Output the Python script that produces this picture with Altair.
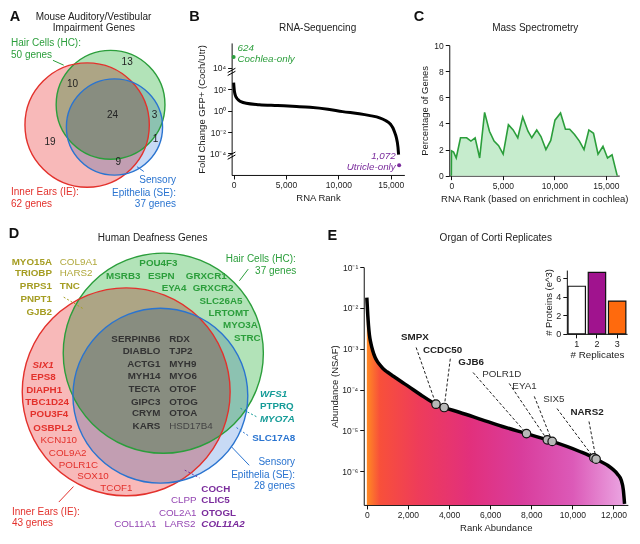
import math
import altair as alt
import pandas as pd

FONT = "Liberation Sans"
W, H = 620, 520
RX = [3, 638]
RY = [3, 541]


def PX(x):
    return (x - RX[0]) * W / (RX[1] - RX[0])


def PY(y):
    return (y - RY[0]) * H / (RY[1] - RY[0])


K = 0.5 * (W / (RX[1] - RX[0]) + H / (RY[1] - RY[0]))

GREEN = "#2b9e3b"
RED = "#e3312c"
BLUE = "#2a74d0"
TEAL = "#169c98"
PURPLE = "#7a2b9c"
PURPLE_LT = "#9547b3"
OLIVE = "#a59d22"
DARK = "#333333"
INK = "#222222"

# ---------------- Panel A: mouse impairment genes (Venn) ----------------
a_sets = ["Hair Cells (HC)", "Inner Ears (IE)", "Sensory Epithelia (SE)"]
a_cx = [106, 82, 110]
a_cy = [99, 120, 122]
a_r = [56, 64, 49.5]
a_counts = ["13", "10", "24", "3", "19", "1", "9"]
a_count_x = [123, 67, 108, 151, 44, 152, 114]
a_count_y = [55, 77, 110, 110, 138, 134, 158]

# ---------------- Panel D: human deafness genes (Venn) ----------------
d_cx = [160, 122, 157]
d_cy = [356, 396, 400]
d_r = [103, 107, 90]

venn_fill = ["#b2e3b8", "#f8b9b9", "#c8daf5"]
venn_stroke = [GREEN, RED, BLUE]

# ---------------- Panel B: RNA-seq fold change (log10 units) ----------------
b_rank = [0, 60, 150, 300, 500, 750, 1200, 2450, 4200, 6000, 7300, 9000, 10400,
          12000, 12900, 14000, 14450, 15000, 15200, 15400, 15530, 15690, 15750]
b_log_fc = [2.6, 1.9, 1.45, 1.15, 0.95, 0.8, 0.68, 0.55, 0.47, 0.38, 0.3, 0.12, -0.1,
            -0.3, -0.45, -0.7, -0.9, -1.3, -1.6, -2.1, -2.5, -3.4, -4.1]
b_only_label = ["624", "1,072"]
b_only_rank = [0, 15800]
b_only_logfc = [5.0, -5.1]
b_ticks = [4, 2, 0, -2, -4]
b_tick_labels = ["10\u2074", "10\u00b2", "10\u2070", "10\u207b\u00b2", "10\u207b\u2074"]
b_break_y = [3.6, -4.2]

# ---------------- Panel C: mass spectrometry ----------------
c_rank = [0, 15, 220, 475, 890, 1265, 1490, 1900, 2310, 2750, 3230, 3700, 4150, 4590,
          5030, 5540, 6000, 6450, 6930, 7440, 7810, 8290, 8700, 9180, 9650, 10060,
          10600, 11075, 11490, 11960, 12430, 12880, 13350, 13800, 14240, 14720, 15160,
          15600, 16100]
c_pct = [0, 1.9, 1.8, 1.35, 2.9, 2.9, 2.9, 2.65, 2.9, 1.35, 4.85, 3.4, 2.65, 2.3,
         1.65, 3.9, 3.5, 2.9, 4.5, 3.4, 2.9, 3.5, 3.0, 2.0, 2.7, 4.25,
         4.8, 3.55, 3.55, 3.15, 2.65, 2.0, 3.5, 3.25, 1.65, 2.25, 1.35,
         1.6, 0]

# ---------------- Panel E: organ of Corti abundance ----------------
e_rank = [0, 15, 47, 80, 126, 200, 285, 400, 522, 700, 840, 1000, 1313, 1650, 2025,
          2600, 3364, 3763, 4500, 5580, 6600, 7768, 8780, 9018, 10330, 11046, 11155,
          11900, 12200, 12380, 12480, 12540]
e_nsaf = [1.8e-2, 1.3e-2, 6.6e-3, 3.8e-3, 2.2e-3, 1.35e-3, 9.1e-4, 6.2e-4, 4.8e-4,
          3.7e-4, 3.1e-4, 2.7e-4, 2.1e-4, 1.6e-4, 1.2e-4, 7.6e-5, 4.4e-5, 3.65e-5,
          2.8e-5, 1.85e-5, 1.25e-5, 8.4e-6, 5.9e-6, 5.4e-6, 3.1e-6, 2.13e-6, 1.98e-6,
          1.2e-6, 8.5e-7, 6.0e-7, 3.5e-7, 1.6e-7]
e_genes = ["SMPX", "CCDC50", "GJB6", "POLR1D", "EYA1", "SIX5", "NARS2"]
e_gene_bold = [True, True, True, False, False, False, True]
e_gene_rank = [3364, 3763, 7768, 8780, 9018, 11046, 11155]
e_gene_nsaf = [4.4e-5, 3.65e-5, 8.4e-6, 5.9e-6, 5.4e-6, 2.13e-6, 1.98e-6]
e_label_rank = [2337, 3682, 5074, 6566, 7673, 9098, 10714]
e_label_nsaf = [1.94e-3, 9.57e-4, 4.79e-4, 2.39e-4, 1.20e-4, 5.93e-5, 2.81e-5]
e_lead_rank = [2399, 4062, 5169, 6927, 8148, 9255, 10809]
e_lead_nsaf = [1.08e-3, 5.73e-4, 2.63e-4, 1.42e-4, 6.84e-5, 3.44e-5, 1.66e-5]
e_ticks = [1e-1, 1e-2, 1e-3, 1e-4, 1e-5, 1e-6]
e_tick_labels = ["10\u207b\u00b9", "10\u207b\u00b2", "10\u207b\u00b3", "10\u207b\u2074",
                 "10\u207b\u2075", "10\u207b\u2076"]
e_reps = ["1", "2", "3"]
e_proteins = [5.15, 6.65, 3.55]
e_rep_colors = ["#ffffff", "#a0138e", "#ff6a0d"]


# ---------------- helpers ----------------
def ax(**kw):
    base = dict(domainColor="#111111", tickColor="#111111", labelColor=INK, titleColor=INK,
                labelFont=FONT, titleFont=FONT, labelFontSize=8.5, titleFontSize=9.5,
                titleFontWeight="normal", grid=False, tickSize=4, labelPadding=2,
                titlePadding=4, labelOverlap=False)
    base.update(kw)
    return alt.Axis(**base)


XR = alt.Scale(domain=RX, range=[0, W], nice=False, zero=False)
YR = alt.Scale(domain=RY, range=[0, H], nice=False, zero=False)


def rx(f):
    return alt.X(f, scale=XR, axis=None)


def ry(f):
    return alt.Y(f, scale=YR, axis=None)


def tx(rows, color, size=9.8, weight="normal", style="normal", align="center"):
    df = pd.DataFrame(rows, columns=["label", "x", "y"])
    return alt.Chart(df).mark_text(font=FONT, fontSize=size, fontWeight=weight,
                                   fontStyle=style, align=align, baseline="middle",
                                   color=color).encode(x=rx("x:Q"), y=ry("y:Q"), text="label:N")


def seg(rows, color, width=1.0, dash=None):
    df = pd.DataFrame(rows, columns=["x", "y", "x2", "y2"])
    kw = dict(color=color, strokeWidth=width)
    if dash:
        kw["strokeDash"] = dash
    return alt.Chart(df).mark_rule(**kw).encode(x=rx("x:Q"), y=ry("y:Q"), x2="x2:Q", y2="y2:Q")


# ---------------- reference-frame layer (Venns, letters, titles) ----------------
RMAX = 120
SIZE = alt.Scale(type="pow", exponent=2, domain=[0, RMAX], range=[0, (2 * RMAX * K) ** 2])
venn_df = pd.DataFrame({"set": a_sets + a_sets, "cx": a_cx + d_cx, "cy": a_cy + d_cy,
                        "r": a_r + d_r, "fill": venn_fill * 2, "stroke": venn_stroke * 2})

venn_fills = alt.Chart(venn_df).mark_circle(opacity=1, blend="multiply").encode(
    x=rx("cx:Q"), y=ry("cy:Q"),
    size=alt.Size("r:Q", scale=SIZE, legend=None),
    fill=alt.Fill("fill:N", scale=None))
venn_lines = alt.Chart(venn_df).mark_point(shape="circle", filled=False, opacity=1,
                                           strokeWidth=1.4).encode(
    x=rx("cx:Q"), y=ry("cy:Q"),
    size=alt.Size("r:Q", scale=SIZE, legend=None),
    stroke=alt.Stroke("stroke:N", scale=None))

ref_layers = [venn_fills, venn_lines]

# pointer lines
ref_layers += [
    seg([(47, 53, 58, 58)], GREEN),
    seg([(133, 163, 140, 168)], BLUE),
    seg([(58, 298, 78, 310)], OLIVE, dash=[2, 2]),
    seg([(247, 269, 238, 281)], GREEN),
    seg([(239, 413, 256, 422)], TEAL, dash=[2, 2]),
    seg([(235, 433, 248, 442)], BLUE, dash=[2, 2]),
    seg([(230, 453, 248, 472)], BLUE),
    seg([(182, 477, 197, 485)], PURPLE, dash=[2, 2]),
    seg([(53, 510, 68, 494)], RED),
]

# letters and titles
ref_layers += [
    tx([("A", 8, 8), ("B", 192, 8), ("C", 422, 8), ("D", 7, 233), ("E", 333, 235)],
       "#111111", size=14.5, weight="bold"),
    tx([("Mouse Auditory/Vestibular", 88.5, 8), ("Impairment Genes", 89, 20),
        ("RNA-Sequencing", 318, 20), ("Mass Spectrometry", 541, 20)], INK, size=10),
    tx([("Human Deafness Genes", 93, 237), ("Organ of Corti Replicates", 443, 237)],
       INK, size=10, align="left"),
]

# panel A texts
ref_layers += [
    tx(list(zip(a_counts, a_count_x, a_count_y)), INK, size=10),
    tx([("Hair Cells (HC):", 4, 35), ("50 genes", 4, 48)], GREEN, size=10, align="left"),
    tx([("Inner Ears (IE):", 4, 189), ("62 genes", 4, 202)], RED, size=10, align="left"),
    tx([("Sensory", 173, 177), ("Epithelia (SE):", 173, 190), ("37 genes", 173, 202)],
       BLUE, size=10, align="right"),
]

# panel D texts
ref_layers += [
    # IE & HC (olive)
    tx([("MYO15A", 46, 262), ("TRIOBP", 46, 273), ("PRPS1", 46, 287), ("PNPT1", 46, 300),
        ("GJB2", 46, 313)], OLIVE, weight="bold", align="right"),
    tx([("COL9A1", 54, 262), ("HARS2", 54, 273)], "#b0a83c", align="left"),
    tx([("TNC", 54, 287)], OLIVE, weight="bold", align="left"),
    # HC only (green)
    tx([("POU4F3", 155, 263), ("MSRB3", 119, 276), ("ESPN", 158, 276), ("GRXCR1", 204, 276),
        ("EYA4", 171, 289), ("GRXCR2", 211, 289), ("SLC26A5", 219, 302), ("LRTOMT", 227, 314),
        ("MYO3A", 239, 327), ("STRC", 246, 340)], GREEN, weight="bold"),
    tx([("Hair Cells (HC):", 224, 259), ("37 genes", 254, 271)], GREEN, size=10, align="left"),
    # all three (dark)
    tx([("SERPINB6", 157, 341), ("DIABLO", 157, 354), ("ACTG1", 157, 367), ("MYH14", 157, 380),
        ("TECTA", 157, 393), ("GIPC3", 157, 406), ("CRYM", 157, 418), ("KARS", 157, 431)],
       DARK, weight="bold", align="right"),
    tx([("RDX", 166, 341), ("TJP2", 166, 354), ("MYH9", 166, 367), ("MYO6", 166, 380),
        ("OTOF", 166, 393), ("OTOG", 166, 406), ("OTOA", 166, 418)],
       DARK, weight="bold", align="left"),
    tx([("HSD17B4", 166, 431)], "#444444", align="left"),
    # IE only (red)
    tx([("SIX1", 37, 368)], RED, weight="bold", style="italic"),
    tx([("EPS8", 37, 381), ("DIAPH1", 38, 394), ("TBC1D24", 41, 407), ("POU3F4", 43, 419),
        ("OSBPL2", 47, 433)], RED, weight="bold"),
    tx([("KCNJ10", 53, 446), ("COL9A2", 62, 459), ("POLR1C", 73, 472), ("SOX10", 88, 483),
        ("TCOF1", 112, 495)], RED),
    tx([("Inner Ears (IE):", 5, 520), ("43 genes", 5, 532)], RED, size=10, align="left"),
    # HC & SE (teal)
    tx([("WFS1", 259, 398), ("MYO7A", 259, 424)], TEAL, weight="bold", style="italic", align="left"),
    tx([("PTPRQ", 259, 411)], TEAL, weight="bold", align="left"),
    # SE only (blue)
    tx([("SLC17A8", 251, 444)], BLUE, weight="bold", align="left"),
    tx([("Sensory", 295, 469), ("Epithelia (SE):", 295, 482), ("28 genes", 295, 493)],
       BLUE, size=10, align="right"),
    # IE & SE (purple)
    tx([("COCH", 199, 496), ("CLIC5", 199, 508), ("OTOGL", 199, 521)], PURPLE, weight="bold",
       align="left"),
    tx([("COL11A2", 199, 533)], PURPLE, weight="bold", style="italic", align="left"),
    tx([("CLPP", 194, 508), ("COL2A1", 194, 521), ("LARS2", 193, 533), ("COL11A1", 153, 533)],
       PURPLE_LT, align="right"),
]

ref_layer = alt.layer(*ref_layers)

# ---------------- Panel B ----------------
BXS = alt.Scale(domain=[-200, 16300], range=[PX(229.9), PX(406.9)], nice=False, zero=False)
BYS = alt.Scale(domain=[-6.0, 6.3], range=[PY(171.6), PY(35)], nice=False, zero=False)
b_expr = " : ".join(f"datum.value == {v} ? '{t}'" for v, t in zip(b_ticks, b_tick_labels)) + " : ''"
B_XAX = ax(orient="bottom", offset=PY(171.6) - H, values=[0, 5000, 10000, 15000], format=",.0f",
           title="RNA Rank", titlePadding=3)
B_YAX = ax(orient="left", offset=-PX(230), values=b_ticks, labelExpr=b_expr,
           title="Fold Change GFP+ (Coch/Utr)", titlePadding=3)


def bx(f):
    return alt.X(f, scale=BXS, axis=B_XAX)


def by(f):
    return alt.Y(f, scale=BYS, axis=B_YAX)


b_df = pd.DataFrame({"rank": b_rank, "lfc": b_log_fc})
b_line = alt.Chart(b_df).mark_line(color="black", strokeWidth=3, interpolate="monotone").encode(
    x=bx("rank:Q"), y=by("lfc:Q"))
b_pts = alt.Chart(pd.DataFrame({"rank": b_only_rank, "lfc": b_only_logfc,
                                "color": [GREEN, PURPLE]})).mark_circle(size=16, opacity=1).encode(
    x=bx("rank:Q"), y=by("lfc:Q"), color=alt.Color("color:N", scale=None))
b_note_g = alt.Chart(pd.DataFrame({"rank": [373, 373], "lfc": [5.86, 4.77],
                                   "label": [b_only_label[0], "Cochlea-only"]})).mark_text(
    font=FONT, fontSize=9.8, fontStyle="italic", align="left", baseline="middle", color=GREEN).encode(
    x=bx("rank:Q"), y=by("lfc:Q"), text="label:N")
b_note_p = alt.Chart(pd.DataFrame({"rank": [15470, 15470], "lfc": [-4.2, -5.25],
                                   "label": [b_only_label[1], "Utricle-only"]})).mark_text(
    font=FONT, fontSize=9.8, fontStyle="italic", align="right", baseline="middle", color=PURPLE).encode(
    x=bx("rank:Q"), y=by("lfc:Q"), text="label:N")
brk_rows = []
for yb in b_break_y:
    for off in (-0.14, 0.14):
        brk_rows.append({"x": -570, "y": yb - 0.2 + off, "x2": 170, "y2": yb + 0.2 + off})
b_breaks = alt.Chart(pd.DataFrame(brk_rows)).mark_rule(color="black", strokeWidth=1).encode(
    x=bx("x:Q"), y=by("y:Q"), x2="x2:Q", y2="y2:Q")
b_layer = alt.layer(b_line, b_pts, b_note_g, b_note_p, b_breaks)

# ---------------- Panel C ----------------
CXS = alt.Scale(domain=[-200, 16300], range=[PX(452.9), PX(627)], nice=False, zero=False)
CYS = alt.Scale(domain=[0, 10], range=[PY(172.3), PY(37.3)], nice=False, zero=False)
C_XAX = ax(orient="bottom", offset=PY(172.3) - H, values=[0, 5000, 10000, 15000], format=",.0f",
           title="RNA Rank (based on enrichment in cochlea)", titlePadding=3)
C_YAX = ax(orient="left", offset=-PX(452.9), values=[0, 2, 4, 6, 8, 10],
           title="Percentage of Genes", titlePadding=4)
c_df = pd.DataFrame({"rank": c_rank, "pct": c_pct})
c_area = alt.Chart(c_df).mark_area(color="#c6eccd", opacity=1).encode(
    x=alt.X("rank:Q", scale=CXS, axis=C_XAX), y=alt.Y("pct:Q", scale=CYS, axis=C_YAX))
c_line = alt.Chart(c_df).mark_line(color=GREEN, strokeWidth=1.6).encode(
    x=alt.X("rank:Q", scale=CXS, axis=C_XAX), y=alt.Y("pct:Q", scale=CYS, axis=C_YAX))
c_layer = alt.layer(c_area, c_line)

# ---------------- Panel E ----------------
EXS = alt.Scale(domain=[-150, 12700], range=[PX(365.3), PX(635.8)], nice=False, zero=False)
EYS = alt.Scale(type="log", domain=[1.5e-7, 0.1], range=[PY(513), PY(267)], nice=False)
e_expr = " : ".join(f"round(log(datum.value)/LN10) == {round(math.log10(v))} ? '{t}'"
                    for v, t in zip(e_ticks, e_tick_labels)) + " : ''"
E_XAX = ax(orient="bottom", offset=PY(513) - H, values=[0, 2000, 4000, 6000, 8000, 10000, 12000],
           format=",.0f", title="Rank Abundance", titlePadding=3)
E_YAX = ax(orient="left", offset=-PX(365.3), values=e_ticks, labelExpr=e_expr,
           title="Abundance (NSAF)", titlePadding=2)


def ex(f):
    return alt.X(f, scale=EXS, axis=E_XAX)


def ey(f):
    return alt.Y(f, scale=EYS, axis=E_YAX)


e_df = pd.DataFrame({"rank": e_rank, "nsaf": e_nsaf})
grad = alt.Gradient(gradient="linear", x1=0, x2=1, y1=0, y2=0, stops=[
    alt.GradientStop(color="#ff8a24", offset=0.0),
    alt.GradientStop(color="#f8503a", offset=0.05),
    alt.GradientStop(color="#ee3c5a", offset=0.2),
    alt.GradientStop(color="#e2307c", offset=0.4),
    alt.GradientStop(color="#d93d9c", offset=0.6),
    alt.GradientStop(color="#dc5ab8", offset=0.8),
    alt.GradientStop(color="#eba6e2", offset=1.0),
])
e_area = alt.Chart(e_df).mark_area(color=grad, opacity=1, interpolate="monotone").encode(
    x=ex("rank:Q"), y=ey("nsaf:Q"), y2=alt.datum(1.5e-7))
e_line = alt.Chart(e_df).mark_line(color="black", strokeWidth=3.5, interpolate="monotone").encode(
    x=ex("rank:Q"), y=ey("nsaf:Q"))
g_df = pd.DataFrame({"gene": e_genes, "bold": e_gene_bold, "rank": e_gene_rank,
                     "nsaf": e_gene_nsaf, "lrank": e_label_rank, "lnsaf": e_label_nsaf,
                     "srank": e_lead_rank, "snsaf": e_lead_nsaf})
e_leads = alt.Chart(g_df).mark_rule(color="#222222", strokeWidth=1, strokeDash=[3, 2]).encode(
    x=ex("srank:Q"), y=ey("snsaf:Q"), x2="rank:Q", y2="nsaf:Q")
e_pts = alt.Chart(g_df).mark_point(filled=True, fill="#b8b8b8", stroke="#111111", strokeWidth=1.2,
                                   size=72, opacity=1).encode(x=ex("rank:Q"), y=ey("nsaf:Q"))
e_lab_b = alt.Chart(g_df).transform_filter("datum.bold").mark_text(
    font=FONT, fontSize=9.8, fontWeight="bold", color=INK, baseline="middle").encode(
    x=ex("lrank:Q"), y=ey("lnsaf:Q"), text="gene:N")
e_lab_n = alt.Chart(g_df).transform_filter("!datum.bold").mark_text(
    font=FONT, fontSize=9.8, color="#333333", baseline="middle").encode(
    x=ex("lrank:Q"), y=ey("lnsaf:Q"), text="gene:N")
e_layer = alt.layer(e_area, e_line, e_leads, e_pts, e_lab_b, e_lab_n)

# ---------------- Panel E inset ----------------
IXS = alt.Scale(domain=e_reps, range=[PX(573.3), PX(635)], paddingInner=0.14, paddingOuter=0.06)
IYS = alt.Scale(domain=[0, 6.9], range=[PY(336), PY(270)], nice=False, zero=False)
i_df = pd.DataFrame({"rep": e_reps, "k": e_proteins, "color": e_rep_colors})
inset = alt.Chart(i_df).mark_bar(stroke="#111111", strokeWidth=1.2, opacity=1).encode(
    x=alt.X("rep:N", scale=IXS, axis=ax(orient="bottom", offset=PY(336) - H, labelAngle=0,
                                        title="# Replicates", titleFontSize=9.8, titlePadding=1,
                                        labelFontSize=9)),
    y=alt.Y("k:Q", scale=IYS, axis=ax(orient="left", offset=-PX(573.3), values=[0, 2, 4, 6],
                                      title="# Proteins (e^3)", labelFontSize=9, titlePadding=2)),
    fill=alt.Fill("color:N", scale=None))

chart = alt.layer(ref_layer, b_layer, c_layer, e_layer, inset).resolve_scale(
    x="independent", y="independent").resolve_axis(x="independent", y="independent").properties(
    width=W, height=H, padding=0).configure_view(strokeWidth=0)

chart.save("out.html", embed_options={"renderer": "svg", "actions": False})
